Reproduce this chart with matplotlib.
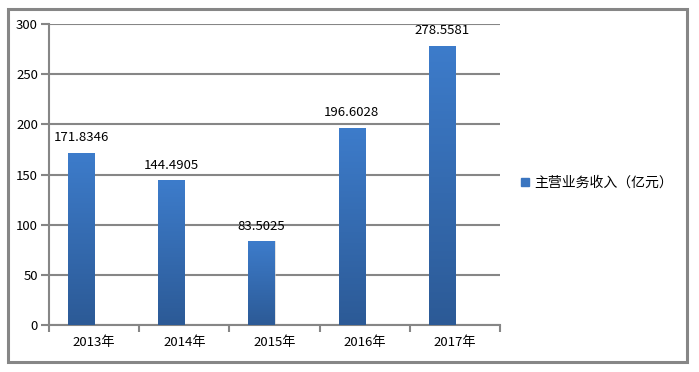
import matplotlib
matplotlib.use("Agg")
import matplotlib.pyplot as plt
import numpy as np
from matplotlib.colors import LinearSegmentedColormap
from matplotlib.patches import Rectangle
from matplotlib.lines import Line2D

plt.rcParams['font.family'] = ['Noto Sans CJK SC', 'DejaVu Sans']

categories = ["2013年", "2014年", "2015年", "2016年", "2017年"]
values = [171.8346, 144.4905, 83.5025, 196.6028, 278.5581]
labels = ["171.8346", "144.4905", "83.5025", "196.6028", "278.5581"]
series_name = "主营业务收入（亿元）"

fig = plt.figure(figsize=(6.99, 3.72), dpi=100)
fig.patch.set_facecolor("white")
# outer border
fig.patches.append(Rectangle((8/699, 1-362/372), (687-8)/699, (362-9)/372,
                             transform=fig.transFigure, fill=False,
                             edgecolor="#868686", linewidth=2.2))

ax = fig.add_axes([49/699, 1-325/372, (500-49)/699, (325-24)/372])
grid_c = "#868686"
x = np.arange(len(categories))
bw = 0.29
offset = -0.145
bars = ax.bar(x + offset, values, width=bw, color="#3a75c0", zorder=3)

cmap = LinearSegmentedColormap.from_list("g", ["#2c5a96", "#3d7ccb"])
grad = np.linspace(0, 1, 256).reshape(-1, 1)
for b in bars:
    x0, y0 = b.get_x(), b.get_y()
    w, h = b.get_width(), b.get_height()
    # soft shadow
    sh = Rectangle((x0 + 0.012, y0), w, h, facecolor="#d0d0d0", edgecolor="none",
                   zorder=2.5, alpha=0.6)
    ax.add_patch(sh)
    im = ax.imshow(grad, cmap=cmap, origin="lower", aspect="auto",
                   extent=[x0, x0 + w, y0, y0 + h], zorder=3.5)
    im.set_clip_path(b)

for xi, v, lab in zip(x + offset, values, labels):
    ax.annotate(lab, (xi, v), xytext=(0, 6), textcoords="offset points",
                ha="center", va="bottom", fontsize=9.5, color="black")

ax.set_xlim(-0.5, len(categories) - 0.5)
ax.set_ylim(0, 300)
ax.set_yticks(np.arange(0, 301, 50))
ax.yaxis.grid(True, color=grid_c, linewidth=1.5, zorder=1)
ax.set_axisbelow(True)

ax.set_xticks(x)
ax.set_xticklabels(categories, fontsize=9.5)
ax.set_xticks(np.arange(-0.5, len(categories), 1), minor=True)
ax.tick_params(axis="x", which="major", length=0, pad=8)
ax.tick_params(axis="x", which="minor", length=5, width=1.5, color=grid_c)
ax.tick_params(axis="y", length=6, width=1.5, color=grid_c, labelsize=9.5, pad=2)

for s in ["top", "right"]:
    ax.spines[s].set_visible(False)
for s in ["left", "bottom"]:
    ax.spines[s].set_color(grid_c)
    ax.spines[s].set_linewidth(1.5)

handle = Line2D([], [], marker="s", linestyle="none", markersize=6,
                markerfacecolor="#3a75c0", markeredgecolor="#3a75c0")
fig.legend([handle], [series_name], loc="center left",
           bbox_to_anchor=(512/699, 1-183/372), frameon=False,
           fontsize=10, handlelength=0.8, handletextpad=0.3, borderpad=0)

fig.savefig("out.png", dpi=100, facecolor="white")
